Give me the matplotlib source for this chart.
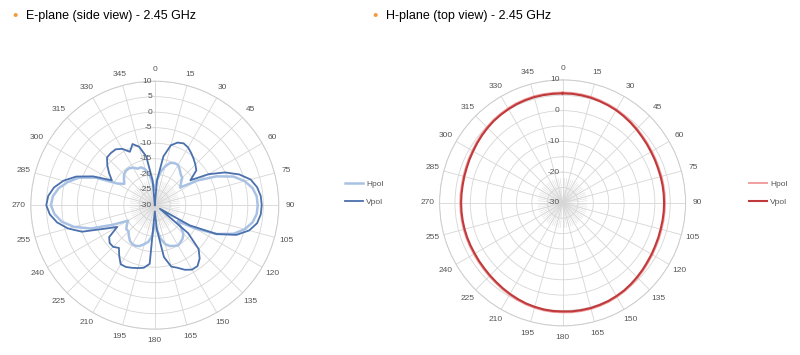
import numpy as np
import matplotlib.pyplot as plt
from matplotlib.transforms import offset_copy

plt.rcParams['font.family'] = ['Liberation Sans', 'DejaVu Sans']

# angles every 5 degrees (clockwise from top)
angles = list(range(0, 360, 5))

# E-plane (side view), dB
e_vpol = [-30, -22, -14, -10, -8.5, -8, -8.5, -9.5, -10.5, -11.5, -12.5, -16,
          -10, -5, -1, 2, 3.5, 4.3, 4.5, 4.3, 3.5, 1.5, -2, -8,
          -17, -28, -16, -10, -7.5, -6, -6, -7, -8.5, -9.5, -13, -22,
          -28, -11, -9.5, -9, -8.5, -8, -8, -10, -12, -11, -11, -12,
          -16, -12, -5, -1, 2, 4, 5, 4.5, 3, 0.5, -3, -8,
          -14, -12, -10, -8.2, -8, -8, -9, -11, -9, -10.5, -14, -22]
e_hpol = [-25, -22, -19, -17, -15.5, -15, -15, -16, -17, -17.5, -19, -20,
          -14, -8, -3, 0, 2, 3, 3.2, 3, 2, 0, -3, -8,
          -15, -21, -19, -17, -16, -15.5, -15, -15.5, -16, -17, -19, -22,
          -24, -20, -18, -17, -16, -15.5, -15.5, -16, -17, -18, -18, -19,
          -20, -15, -8, -3, 0.5, 2.5, 3.5, 3, 1.5, -1, -4, -9,
          -16, -18, -17, -16, -15.5, -15.5, -16, -17, -17, -18, -20, -23]

# H-plane (top view), dB
h_vpol = [5.6, 5.6, 5.5, 5.4, 5.2, 5.0, 4.8, 4.5, 4.2, 3.9, 3.6, 3.4,
          3.2, 3.1, 3.0, 3.0, 3.0, 3.0, 3.0, 3.0, 3.0, 3.0, 3.1, 3.2,
          3.4, 3.6, 3.9, 4.2, 4.5, 4.8, 5.0, 5.2, 5.3, 5.4, 5.4, 5.4,
          5.3, 5.3, 5.2, 5.0, 4.8, 4.5, 4.2, 3.9, 3.6, 3.4, 3.2, 3.1,
          3.0, 3.0, 3.0, 3.0, 3.0, 3.0, 3.0, 3.0, 3.0, 3.1, 3.2, 3.4,
          3.6, 3.9, 4.2, 4.5, 4.8, 5.0, 5.2, 5.4, 5.5, 5.6, 5.6, 5.6]
h_hpol = [5.9, 5.9, 5.8, 5.7, 5.5, 5.3, 5.1, 4.8, 4.5, 4.2, 3.9, 3.7,
          3.5, 3.4, 3.3, 3.3, 3.3, 3.3, 3.3, 3.3, 3.3, 3.3, 3.4, 3.5,
          3.7, 3.9, 4.2, 4.5, 4.8, 5.1, 5.3, 5.5, 5.6, 5.7, 5.7, 5.7,
          5.6, 5.6, 5.5, 5.3, 5.1, 4.8, 4.5, 4.2, 3.9, 3.7, 3.5, 3.4,
          3.3, 3.3, 3.3, 3.3, 3.3, 3.3, 3.3, 3.3, 3.3, 3.4, 3.5, 3.7,
          3.9, 4.2, 4.5, 4.8, 5.1, 5.3, 5.5, 5.7, 5.8, 5.9, 5.9, 5.9]

e_rticks = [10, 5, 0, -5, -10, -15, -20, -25, -30]
h_rticks = [10, 0, -10, -20, -30]
theta_labels = list(range(0, 360, 15))


def closed(vals):
    th = np.deg2rad(angles + [360])
    return th, list(vals) + [vals[0]]


def setup(ax, label_ticks):
    ax.set_theta_zero_location('N')
    ax.set_theta_direction(-1)
    ax.set_ylim(-30, 10)
    ax.set_yticks(np.arange(-30, 11, 5))
    ax.set_yticklabels([])
    ax.set_xticks(np.deg2rad(theta_labels))
    ax.set_xticklabels([str(t) for t in theta_labels], fontsize=6, color='#555555')
    ax.tick_params(axis='x', pad=-2)
    ax.grid(True, color='#d6d6d6', linewidth=0.6)
    ax.spines['polar'].set_color('#cccccc')
    ax.spines['polar'].set_linewidth(0.7)
    # dense spokes near the centre
    for a in np.deg2rad(np.arange(0, 360, 5)):
        ax.plot([a, a], [-30, -22], color='#dcdcdc', linewidth=0.4, zorder=0)
    tr = offset_copy(ax.transData, fig=ax.figure, x=-2, y=0, units='points')
    for r in label_ticks:
        ax.text(0, r, str(r), transform=tr, ha='right', va='center',
                fontsize=6, color='#555555')


fig = plt.figure(figsize=(8, 3.55), dpi=100)

ax1 = fig.add_axes([0.0385, 0.072, 0.31, 0.70], projection='polar')
setup(ax1, e_rticks)
th, r = closed(e_hpol)
ax1.plot(th, r, color='#a9c2e4', linewidth=1.8, label='Hpol')
th, r = closed(e_vpol)
ax1.plot(th, r, color='#4a70ad', linewidth=1.3, label='Vpol')
ax1.legend(loc='center left', bbox_to_anchor=(0.422, 0.456), bbox_transform=fig.transFigure,
           frameon=False, fontsize=6, handlelength=2.2, labelspacing=1.2, handletextpad=0.3,
           labelcolor='#555555')

ax2 = fig.add_axes([0.5495, 0.082, 0.3075, 0.693], projection='polar')
setup(ax2, h_rticks)
th, r = closed(h_hpol)
ax2.plot(th, r, color='#f0a0a0', linewidth=1.4, label='Hpol')
th, r = closed(h_vpol)
ax2.plot(th, r, color='#c0393b', linewidth=1.5, label='Vpol')
ax2.legend(loc='center left', bbox_to_anchor=(0.927, 0.456), bbox_transform=fig.transFigure,
           frameon=False, fontsize=6, handlelength=2.2, labelspacing=1.2, handletextpad=0.3,
           labelcolor='#555555')

# titles with orange bullets
fig.text(0.016, 0.956, '\u2022', color='#f39c3c', fontsize=11, va='center')
fig.text(0.033, 0.956, 'E-plane (side view) - 2.45 GHz', fontsize=9, va='center')
fig.text(0.465, 0.956, '\u2022', color='#f39c3c', fontsize=11, va='center')
fig.text(0.482, 0.956, 'H-plane (top view) - 2.45 GHz', fontsize=9, va='center')

fig.savefig('out.png', dpi=100)
